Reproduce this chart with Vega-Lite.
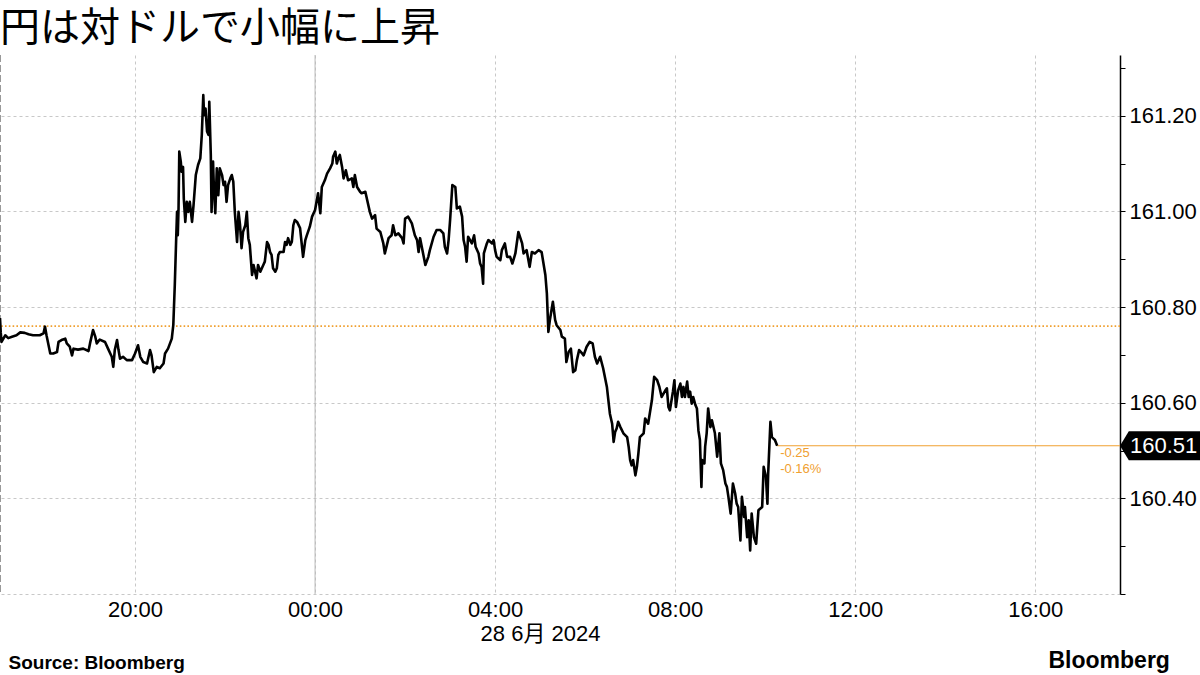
{
"$schema":"https://vega.github.io/schema/vega-lite/v6.json",
"width":1120,"height":539,
"autosize":{"type":"none"},
"padding":{"left":0,"top":55,"right":80,"bottom":81},
"background":"#ffffff",
"config":{"view":{"stroke":null},"font":"Liberation Sans"},
"title":{"text":"円は対ドルで小幅に上昇","anchor":"start","frame":"group","font":"Noto Sans CJK JP","fontSize":40,"fontWeight":"normal","color":"#000000","offset":5},
"datasets":{"fx":[
{"t":"2024-06-27T17:00","v":160.777},{"t":"2024-06-27T17:01","v":160.747},{"t":"2024-06-27T17:02","v":160.727},{"t":"2024-06-27T17:07","v":160.741},{"t":"2024-06-27T17:11","v":160.735},{"t":"2024-06-27T17:16","v":160.738},{"t":"2024-06-27T17:22","v":160.741},{"t":"2024-06-27T17:27","v":160.747},{"t":"2024-06-27T17:33","v":160.746},{"t":"2024-06-27T17:38","v":160.743},{"t":"2024-06-27T17:44","v":160.741},{"t":"2024-06-27T17:53","v":160.741},{"t":"2024-06-27T17:58","v":160.745},{"t":"2024-06-27T18:00","v":160.759},{"t":"2024-06-27T18:02","v":160.741},{"t":"2024-06-27T18:07","v":160.703},{"t":"2024-06-27T18:11","v":160.703},{"t":"2024-06-27T18:16","v":160.706},{"t":"2024-06-27T18:18","v":160.727},{"t":"2024-06-27T18:22","v":160.731},{"t":"2024-06-27T18:27","v":160.734},{"t":"2024-06-27T18:29","v":160.724},{"t":"2024-06-27T18:33","v":160.717},{"t":"2024-06-27T18:36","v":160.699},{"t":"2024-06-27T18:38","v":160.713},{"t":"2024-06-27T18:44","v":160.711},{"t":"2024-06-27T18:51","v":160.713},{"t":"2024-06-27T18:58","v":160.708},{"t":"2024-06-27T19:00","v":160.724},{"t":"2024-06-27T19:04","v":160.752},{"t":"2024-06-27T19:07","v":160.738},{"t":"2024-06-27T19:09","v":160.724},{"t":"2024-06-27T19:13","v":160.732},{"t":"2024-06-27T19:20","v":160.727},{"t":"2024-06-27T19:24","v":160.713},{"t":"2024-06-27T19:29","v":160.696},{"t":"2024-06-27T19:31","v":160.675},{"t":"2024-06-27T19:33","v":160.710},{"t":"2024-06-27T19:36","v":160.731},{"t":"2024-06-27T19:38","v":160.710},{"t":"2024-06-27T19:40","v":160.692},{"t":"2024-06-27T19:44","v":160.696},{"t":"2024-06-27T19:49","v":160.689},{"t":"2024-06-27T19:56","v":160.689},{"t":"2024-06-27T20:00","v":160.703},{"t":"2024-06-27T20:04","v":160.720},{"t":"2024-06-27T20:07","v":160.696},{"t":"2024-06-27T20:11","v":160.685},{"t":"2024-06-27T20:16","v":160.682},{"t":"2024-06-27T20:20","v":160.710},{"t":"2024-06-27T20:22","v":160.699},{"t":"2024-06-27T20:25","v":160.664},{"t":"2024-06-27T20:29","v":160.675},{"t":"2024-06-27T20:33","v":160.672},{"t":"2024-06-27T20:38","v":160.682},{"t":"2024-06-27T20:40","v":160.703},
{"t":"2024-06-27T20:44","v":160.713},{"t":"2024-06-27T20:49","v":160.734},{"t":"2024-06-27T20:51","v":160.762},{"t":"2024-06-27T20:53","v":160.846},{"t":"2024-06-27T20:55","v":160.950},{"t":"2024-06-27T20:56","v":160.999},{"t":"2024-06-27T20:57","v":160.950},{"t":"2024-06-27T20:58","v":161.006},{"t":"2024-06-27T20:59","v":161.125},{"t":"2024-06-27T21:01","v":161.104},{"t":"2024-06-27T21:02","v":161.083},{"t":"2024-06-27T21:04","v":161.093},{"t":"2024-06-27T21:05","v":161.027},{"t":"2024-06-27T21:07","v":160.978},{"t":"2024-06-27T21:09","v":161.020},{"t":"2024-06-27T21:11","v":160.999},{"t":"2024-06-27T21:13","v":161.020},{"t":"2024-06-27T21:16","v":160.978},{"t":"2024-06-27T21:18","v":161.013},{"t":"2024-06-27T21:21","v":161.076},{"t":"2024-06-27T21:24","v":161.097},{"t":"2024-06-27T21:27","v":161.111},{"t":"2024-06-27T21:29","v":161.160},{"t":"2024-06-27T21:31","v":161.243},{"t":"2024-06-27T21:32","v":161.201},{"t":"2024-06-27T21:34","v":161.215},{"t":"2024-06-27T21:36","v":161.167},{"t":"2024-06-27T21:38","v":161.160},{"t":"2024-06-27T21:39","v":161.229},{"t":"2024-06-27T21:41","v":161.118},{"t":"2024-06-27T21:42","v":160.999},{"t":"2024-06-27T21:44","v":161.104},{"t":"2024-06-27T21:45","v":161.055},{"t":"2024-06-27T21:47","v":160.996},{"t":"2024-06-27T21:49","v":161.090},{"t":"2024-06-27T21:51","v":161.034},{"t":"2024-06-27T21:53","v":161.090},{"t":"2024-06-27T21:56","v":161.076},{"t":"2024-06-27T21:58","v":161.055},{"t":"2024-06-27T22:00","v":161.062},{"t":"2024-06-27T22:02","v":161.020},{"t":"2024-06-27T22:04","v":161.055},{"t":"2024-06-27T22:07","v":161.069},{"t":"2024-06-27T22:09","v":161.076},{"t":"2024-06-27T22:11","v":161.062},{"t":"2024-06-27T22:13","v":160.999},{"t":"2024-06-27T22:16","v":160.936},{"t":"2024-06-27T22:18","v":160.999},{"t":"2024-06-27T22:20","v":160.971},{"t":"2024-06-27T22:22","v":160.923},{"t":"2024-06-27T22:24","v":160.957},{"t":"2024-06-27T22:27","v":160.971},{"t":"2024-06-27T22:29","v":160.999},{"t":"2024-06-27T22:31","v":160.944},{"t":"2024-06-27T22:33","v":160.930},{"t":"2024-06-27T22:36","v":160.867},{"t":"2024-06-27T22:38","v":160.888},{"t":"2024-06-27T22:40","v":160.874},{"t":"2024-06-27T22:42","v":160.860},{"t":"2024-06-27T22:44","v":160.888},{"t":"2024-06-27T22:47","v":160.874},{"t":"2024-06-27T22:51","v":160.888},{"t":"2024-06-27T22:53","v":160.895},{"t":"2024-06-27T22:56","v":160.936},{"t":"2024-06-27T22:58","v":160.930},{"t":"2024-06-27T23:00","v":160.915},{"t":"2024-06-27T23:02","v":160.909},{"t":"2024-06-27T23:04","v":160.881},{"t":"2024-06-27T23:07","v":160.874},{"t":"2024-06-27T23:09","v":160.881},{"t":"2024-06-27T23:11","v":160.909},{"t":"2024-06-27T23:13","v":160.915},{"t":"2024-06-27T23:18","v":160.915},{"t":"2024-06-27T23:20","v":160.936},{"t":"2024-06-27T23:22","v":160.930},{"t":"2024-06-27T23:24","v":160.944},{"t":"2024-06-27T23:27","v":160.930},{"t":"2024-06-27T23:29","v":160.936},{"t":"2024-06-27T23:31","v":160.971},{"t":"2024-06-27T23:33","v":160.982},{"t":"2024-06-27T23:36","v":160.978},
{"t":"2024-06-27T23:40","v":160.965},{"t":"2024-06-27T23:44","v":160.905},{"t":"2024-06-27T23:47","v":160.940},{"t":"2024-06-27T23:49","v":160.950},{"t":"2024-06-27T23:53","v":160.968},{"t":"2024-06-27T23:56","v":160.989},{"t":"2024-06-28T00:00","v":161.003},{"t":"2024-06-28T00:04","v":161.038},{"t":"2024-06-28T00:07","v":160.996},{"t":"2024-06-28T00:09","v":161.051},{"t":"2024-06-28T00:13","v":161.065},{"t":"2024-06-28T00:16","v":161.079},{"t":"2024-06-28T00:20","v":161.090},{"t":"2024-06-28T00:23","v":161.100},{"t":"2024-06-28T00:24","v":161.114},{"t":"2024-06-28T00:27","v":161.125},{"t":"2024-06-28T00:29","v":161.100},{"t":"2024-06-28T00:31","v":161.111},{"t":"2024-06-28T00:33","v":161.118},{"t":"2024-06-28T00:36","v":161.093},{"t":"2024-06-28T00:38","v":161.069},{"t":"2024-06-28T00:41","v":161.086},{"t":"2024-06-28T00:44","v":161.065},{"t":"2024-06-28T00:49","v":161.069},{"t":"2024-06-28T00:51","v":161.051},{"t":"2024-06-28T00:53","v":161.076},{"t":"2024-06-28T00:56","v":161.051},{"t":"2024-06-28T01:00","v":161.041},{"t":"2024-06-28T01:02","v":161.038},{"t":"2024-06-28T01:07","v":161.041},{"t":"2024-06-28T01:09","v":161.027},{"t":"2024-06-28T01:13","v":160.999},{"t":"2024-06-28T01:16","v":160.985},{"t":"2024-06-28T01:20","v":160.992},{"t":"2024-06-28T01:22","v":160.964},{"t":"2024-06-28T01:27","v":160.957},{"t":"2024-06-28T01:31","v":160.933},{"t":"2024-06-28T01:33","v":160.912},{"t":"2024-06-28T01:38","v":160.944},{"t":"2024-06-28T01:42","v":160.950},{"t":"2024-06-28T01:44","v":160.971},{"t":"2024-06-28T01:47","v":160.950},{"t":"2024-06-28T01:51","v":160.954},{"t":"2024-06-28T01:56","v":160.944},{"t":"2024-06-28T01:58","v":160.933},{"t":"2024-06-28T02:00","v":160.985},{"t":"2024-06-28T02:04","v":160.989},{"t":"2024-06-28T02:09","v":160.975},{"t":"2024-06-28T02:13","v":160.950},{"t":"2024-06-28T02:16","v":160.940},{"t":"2024-06-28T02:18","v":160.915},{"t":"2024-06-28T02:20","v":160.944},{"t":"2024-06-28T02:24","v":160.912},{"t":"2024-06-28T02:27","v":160.888},{"t":"2024-06-28T02:31","v":160.905},{"t":"2024-06-28T02:33","v":160.919},{"t":"2024-06-28T02:38","v":160.947},{"t":"2024-06-28T02:42","v":160.961},{"t":"2024-06-28T02:47","v":160.961},{"t":"2024-06-28T02:51","v":160.954},{"t":"2024-06-28T02:53","v":160.926},{"t":"2024-06-28T02:56","v":160.912},{"t":"2024-06-28T02:58","v":160.940},{"t":"2024-06-28T03:00","v":160.982},{"t":"2024-06-28T03:03","v":161.055},{"t":"2024-06-28T03:07","v":161.051},{"t":"2024-06-28T03:09","v":161.006},{"t":"2024-06-28T03:13","v":161.010},{"t":"2024-06-28T03:16","v":160.989},{"t":"2024-06-28T03:18","v":160.940},{"t":"2024-06-28T03:20","v":160.926},{"t":"2024-06-28T03:22","v":160.895},{"t":"2024-06-28T03:24","v":160.947},{"t":"2024-06-28T03:29","v":160.933},{"t":"2024-06-28T03:32","v":160.950},{"t":"2024-06-28T03:34","v":160.926},{"t":"2024-06-28T03:38","v":160.912},{"t":"2024-06-28T03:40","v":160.891},{"t":"2024-06-28T03:42","v":160.884},{"t":"2024-06-28T03:44","v":160.849},{"t":"2024-06-28T03:45","v":160.912},{"t":"2024-06-28T03:49","v":160.933},{"t":"2024-06-28T03:51","v":160.940},{"t":"2024-06-28T03:56","v":160.933},{"t":"2024-06-28T03:58","v":160.940},{"t":"2024-06-28T04:00","v":160.919},{"t":"2024-06-28T04:02","v":160.905},{"t":"2024-06-28T04:07","v":160.898},{"t":"2024-06-28T04:09","v":160.919},{"t":"2024-06-28T04:13","v":160.933},{"t":"2024-06-28T04:16","v":160.905},{"t":"2024-06-28T04:20","v":160.905},{"t":"2024-06-28T04:23","v":160.891},{"t":"2024-06-28T04:27","v":160.912},{"t":"2024-06-28T04:31","v":160.957},{"t":"2024-06-28T04:36","v":160.933},{"t":"2024-06-28T04:38","v":160.912},{"t":"2024-06-28T04:42","v":160.919},{"t":"2024-06-28T04:46","v":160.884},{"t":"2024-06-28T04:49","v":160.915},{"t":"2024-06-28T04:53","v":160.912},{"t":"2024-06-28T04:58","v":160.919},{"t":"2024-06-28T05:02","v":160.915},{"t":"2024-06-28T05:07","v":160.867},{"t":"2024-06-28T05:09","v":160.828},
{"t":"2024-06-28T05:11","v":160.748},{"t":"2024-06-28T05:13","v":160.773},{"t":"2024-06-28T05:17","v":160.811},{"t":"2024-06-28T05:20","v":160.773},{"t":"2024-06-28T05:22","v":160.762},{"t":"2024-06-28T05:27","v":160.752},{"t":"2024-06-28T05:29","v":160.738},{"t":"2024-06-28T05:33","v":160.734},{"t":"2024-06-28T05:35","v":160.685},{"t":"2024-06-28T05:38","v":160.706},{"t":"2024-06-28T05:41","v":160.713},{"t":"2024-06-28T05:44","v":160.664},{"t":"2024-06-28T05:47","v":160.668},{"t":"2024-06-28T05:49","v":160.689},{"t":"2024-06-28T05:52","v":160.710},{"t":"2024-06-28T05:56","v":160.703},{"t":"2024-06-28T05:58","v":160.699},{"t":"2024-06-28T06:02","v":160.717},{"t":"2024-06-28T06:06","v":160.727},{"t":"2024-06-28T06:10","v":160.724},{"t":"2024-06-28T06:13","v":160.696},{"t":"2024-06-28T06:16","v":160.682},{"t":"2024-06-28T06:20","v":160.696},{"t":"2024-06-28T06:24","v":160.672},{"t":"2024-06-28T06:29","v":160.633},{"t":"2024-06-28T06:31","v":160.605},{"t":"2024-06-28T06:33","v":160.577},{"t":"2024-06-28T06:36","v":160.556},{"t":"2024-06-28T06:38","v":160.518},{"t":"2024-06-28T06:40","v":160.539},{"t":"2024-06-28T06:42","v":160.546},{"t":"2024-06-28T06:44","v":160.560},{"t":"2024-06-28T06:47","v":160.549},{"t":"2024-06-28T06:51","v":160.536},{"t":"2024-06-28T06:56","v":160.528},{"t":"2024-06-28T06:58","v":160.508},{"t":"2024-06-28T07:00","v":160.480},{"t":"2024-06-28T07:02","v":160.469},{"t":"2024-06-28T07:04","v":160.480},{"t":"2024-06-28T07:07","v":160.448},{"t":"2024-06-28T07:09","v":160.466},{"t":"2024-06-28T07:11","v":160.494},{"t":"2024-06-28T07:13","v":160.528},{"t":"2024-06-28T07:18","v":160.536},{"t":"2024-06-28T07:20","v":160.567},{"t":"2024-06-28T07:24","v":160.556},{"t":"2024-06-28T07:29","v":160.605},{"t":"2024-06-28T07:32","v":160.654},{"t":"2024-06-28T07:36","v":160.647},{"t":"2024-06-28T07:39","v":160.633},{"t":"2024-06-28T07:42","v":160.612},{"t":"2024-06-28T07:47","v":160.626},{"t":"2024-06-28T07:49","v":160.630},{"t":"2024-06-28T07:51","v":160.591},{"t":"2024-06-28T07:53","v":160.584},{"t":"2024-06-28T07:57","v":160.623},{"t":"2024-06-28T07:59","v":160.647},{"t":"2024-06-28T08:01","v":160.591},{"t":"2024-06-28T08:04","v":160.626},{"t":"2024-06-28T08:07","v":160.640},{"t":"2024-06-28T08:09","v":160.612},{"t":"2024-06-28T08:11","v":160.633},{"t":"2024-06-28T08:13","v":160.612},{"t":"2024-06-28T08:16","v":160.644},{"t":"2024-06-28T08:18","v":160.612},{"t":"2024-06-28T08:20","v":160.623},{"t":"2024-06-28T08:22","v":160.598},{"t":"2024-06-28T08:24","v":160.612},{"t":"2024-06-28T08:27","v":160.595},{"t":"2024-06-28T08:29","v":160.588},{"t":"2024-06-28T08:31","v":160.542},{"t":"2024-06-28T08:33","v":160.522},{"t":"2024-06-28T08:35","v":160.424},{"t":"2024-06-28T08:36","v":160.480},{"t":"2024-06-28T08:39","v":160.473},{"t":"2024-06-28T08:40","v":160.508},{"t":"2024-06-28T08:42","v":160.536},{"t":"2024-06-28T08:44","v":160.588},{"t":"2024-06-28T08:47","v":160.549},{"t":"2024-06-28T08:49","v":160.563},{"t":"2024-06-28T08:53","v":160.536},{"t":"2024-06-28T08:56","v":160.487},{"t":"2024-06-28T08:59","v":160.536},{"t":"2024-06-28T09:01","v":160.473},{"t":"2024-06-28T09:04","v":160.459},{"t":"2024-06-28T09:07","v":160.431},{"t":"2024-06-28T09:09","v":160.424},{"t":"2024-06-28T09:11","v":160.403},{"t":"2024-06-28T09:14","v":160.368},{"t":"2024-06-28T09:17","v":160.431},{"t":"2024-06-28T09:20","v":160.410},{"t":"2024-06-28T09:22","v":160.389},{"t":"2024-06-28T09:24","v":160.382},{"t":"2024-06-28T09:27","v":160.312},{"t":"2024-06-28T09:29","v":160.403},{"t":"2024-06-28T09:32","v":160.361},{"t":"2024-06-28T09:33","v":160.382},{"t":"2024-06-28T09:36","v":160.319},{"t":"2024-06-28T09:38","v":160.354},{"t":"2024-06-28T09:40","v":160.291},{"t":"2024-06-28T09:42","v":160.368},{"t":"2024-06-28T09:45","v":160.319},{"t":"2024-06-28T09:48","v":160.305},{"t":"2024-06-28T09:51","v":160.375},{"t":"2024-06-28T09:56","v":160.382},{"t":"2024-06-28T09:58","v":160.466},{"t":"2024-06-28T10:01","v":160.445},{"t":"2024-06-28T10:03","v":160.389},{"t":"2024-06-28T10:04","v":160.452},{"t":"2024-06-28T10:07","v":160.560},{"t":"2024-06-28T10:09","v":160.528},{"t":"2024-06-28T10:11","v":160.525},{"t":"2024-06-28T10:13","v":160.522},{"t":"2024-06-28T10:16","v":160.51}
]},
"resolve":{"axis":{"y":"independent"}},
"layer":[
{"data":{"name":"fx"},
 "mark":{"type":"line","color":"#000000","strokeWidth":2.6,"strokeJoin":"round","opacity":0},
 "encoding":{
  "x":{"field":"t","type":"temporal",
   "scale":{"domain":[{"year":2024,"month":6,"date":27,"hours":17,"minutes":0},{"year":2024,"month":6,"date":28,"hours":17,"minutes":53}]},
   "axis":{"values":[{"year":2024,"month":6,"date":27,"hours":20},{"year":2024,"month":6,"date":28,"hours":0},{"year":2024,"month":6,"date":28,"hours":4},{"year":2024,"month":6,"date":28,"hours":8},{"year":2024,"month":6,"date":28,"hours":12},{"year":2024,"month":6,"date":28,"hours":16}],
    "format":"%H:%M","labelFont":"Liberation Sans","labelFontSize":22,"labelColor":"#000000","ticks":false,"domain":false,"labelPadding":5,
    "grid":true,"gridColor":"#c8c8c8","gridDash":[3,3],"gridWidth":1,
    "title":"28 6月 2024","titleFont":"Liberation Sans, Noto Sans CJK JP","titleFontSize":22,"titleFontWeight":"normal","titleColor":"#000000","titlePadding":3,"titleX":540}},
  "y":{"field":"v","type":"quantitative",
   "scale":{"domain":[160.2,161.327],"zero":false,"nice":false},
   "axis":{"orient":"right","values":[160.2,160.3,160.4,160.5,160.6,160.7,160.8,160.9,161.0,161.1,161.2,161.3],
    "labelExpr":"(round(datum.value*10)%2==0 && datum.value>160.3) ? format(datum.value,'.2f') : ''",
    "labelFont":"Liberation Sans","labelFontSize":22,"labelColor":"#000000","labelPadding":4,
    "domainColor":"#000000","domainWidth":1.5,"tickColor":"#000000","tickSize":5,"tickWidth":1,
    "grid":true,"gridColor":"#c8c8c8","gridDash":[3,3],"gridWidth":1,
    "gridOpacity":{"condition":{"test":"round(datum.value*10)%2==0","value":1},"value":0},
    "title":"Bloomberg","titleAngle":0,"titleAlign":"left","titleBaseline":"middle","titleX":-72,"titleY":605,"titleFont":"Liberation Sans","titleFontSize":23,"titleFontWeight":"bold","titleColor":"#000000"}}}},
{"data":{"values":[{"t":"2024-06-28T00:00"}]},
 "mark":{"type":"rule","color":"#b8b8b8","strokeWidth":1},
 "encoding":{"x":{"field":"t","type":"temporal"}}},
{"data":{"values":[{"t":"2024-06-27T17:00"}]},
 "mark":{"type":"rule","color":"#999999","strokeWidth":2,"strokeDash":[7,3]},
 "encoding":{"x":{"field":"t","type":"temporal"}}},
{"data":{"values":[{"v":160.76}]},
 "mark":{"type":"rule","color":"#f0a030","strokeWidth":1.6,"strokeDash":[1.6,2.2]},
 "encoding":{"y":{"field":"v","type":"quantitative","axis":{"orient":"left","labels":false,"ticks":false,"domain":false,"grid":false,"title":"Source: Bloomberg","titleAngle":0,"titleAlign":"left","titleBaseline":"middle","titleX":8,"titleY":607,"titleFont":"Liberation Sans","titleFontSize":19,"titleFontWeight":"bold","titleColor":"#000000"}}}},
{"data":{"values":[{"t":"2024-06-28T10:16","t2":"2024-06-28T17:53","v":160.51}]},
 "mark":{"type":"rule","color":"#f0a030","strokeWidth":1.2},
 "encoding":{"x":{"field":"t","type":"temporal"},"x2":{"field":"t2"},"y":{"field":"v","type":"quantitative","axis":null}}},
{"data":{"name":"fx"},
 "mark":{"type":"line","color":"#000000","strokeWidth":2.6,"strokeJoin":"round"},
 "encoding":{"x":{"field":"t","type":"temporal"},"y":{"field":"v","type":"quantitative","axis":null}}},
{"data":{"values":[{"t":"2024-06-28T10:16","v":160.51,"txt":"-0.25\n-0.16%"}]},
 "mark":{"type":"text","color":"#f0a030","align":"left","baseline":"top","dx":3,"dy":1,"fontSize":13,"lineHeight":16,"lineBreak":"\n","font":"Liberation Sans"},
 "encoding":{"x":{"field":"t","type":"temporal"},"y":{"field":"v","type":"quantitative","axis":null},"text":{"field":"txt"}}},
{"data":{"values":[{"t":"2024-06-28T17:53","v":160.51}]},
 "mark":{"type":"point","filled":true,"color":"#000000","opacity":1,"size":6400,"shape":"M0,0L0.22,-0.36L2,-0.36L2,0.36L0.22,0.36Z","clip":false},
 "encoding":{"x":{"field":"t","type":"temporal"},"y":{"field":"v","type":"quantitative","axis":null}}},
{"data":{"values":[{"t":"2024-06-28T17:53","v":160.51,"lab":"160.51"}]},
 "mark":{"type":"text","color":"#ffffff","align":"left","baseline":"middle","dx":10,"fontSize":22,"font":"Liberation Sans"},
 "encoding":{"x":{"field":"t","type":"temporal"},"y":{"field":"v","type":"quantitative","axis":null},"text":{"field":"lab"}}}
]
}
